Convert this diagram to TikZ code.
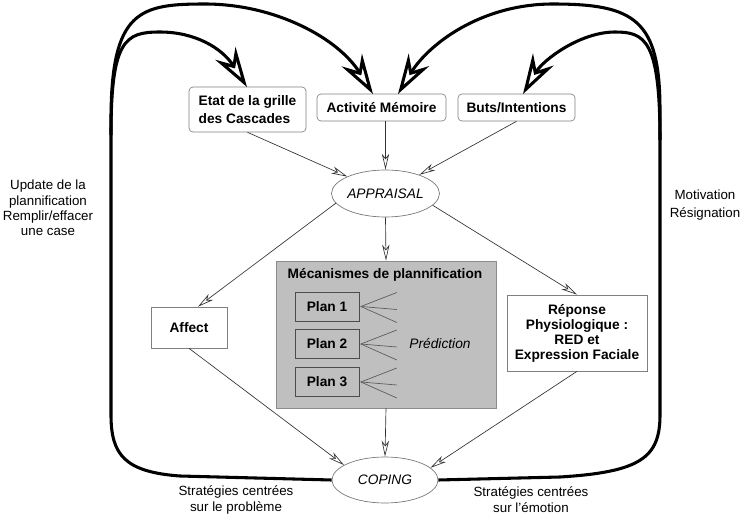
\documentclass[tikz,border=0pt]{standalone}
\usepackage{fontspec}
\setmainfont{Liberation Sans}
\usetikzlibrary{arrows.meta,shapes.geometric,calc}
\begin{document}
\begin{tikzpicture}[x=0.75pt,y=-0.75pt,
  box/.style={draw=black!50, line width=0.5pt, inner sep=0pt, align=center, font=\bfseries\fontsize{10.3}{12}\selectfont},
  rbox/.style={box, rounded corners=3pt},
  ell/.style={ellipse, draw=black!55, line width=0.5pt, inner sep=0pt, font=\itshape\fontsize{10.3}{12}\selectfont},
  plan/.style={box, draw=black!70, fill=black!25, minimum width=48pt, minimum height=21.75pt},
  flow/.style={draw=black!80, line width=0.5pt, -{Stealth[open, fill=white, length=12pt, width=5.5pt, inset=3.5pt]}},
  loop/.style={line width=2.3pt, -{Stealth[open, fill=white, length=30pt, width=18pt, inset=10pt]}},
  fan/.style={draw=black!65, line width=0.5pt},
  lbl/.style={align=center, font=\fontsize{10}{11.5}\selectfont}
]
\useasboundingbox (0,0) rectangle (744,518);

% nodes
\node[rbox, minimum width=87.75pt, minimum height=33.75pt, align=left, font=\bfseries\fontsize{10.3}{14}\selectfont] (etat) at (247.5,109.5) {Etat de la grille\\des Cascades};
\node[rbox, minimum width=96.75pt, minimum height=20.25pt] (act) at (381.5,107.5) {Activité Mémoire};
\node[rbox, minimum width=87.75pt, minimum height=20.25pt] (buts) at (516.5,107.5) {Buts/Intentions};
\node[ell, minimum width=75.75pt, minimum height=35.25pt] (app) at (385.5,193.5) {APPRAISAL};
\node[box, draw=black!45, fill=black!25, minimum width=165pt, minimum height=110.25pt] (mech) at (386,334.5) {};
\node[anchor=west, font=\bfseries\fontsize{10.3}{12}\selectfont] (mtitle) at (283,275) {Mécanismes de plannification};
\node[plan] (p1) at (327,306.5) {Plan 1};
\node[plan] (p2) at (327,344) {Plan 2};
\node[plan] (p3) at (327,382) {Plan 3};
\node[font=\itshape\fontsize{10.3}{12}\selectfont] (pred) at (440,344) {Prédiction};
\node[box, minimum width=57pt, minimum height=30.75pt] (affect) at (189,327.5) {Affect};
\node[box, minimum width=105pt, minimum height=57pt, font=\bfseries\fontsize{10.3}{11.25}\selectfont] (rep) at (577,333) {Réponse\\Physiologique :\\RED et\\Expression Faciale};
\node[ell, minimum width=79.5pt, minimum height=34.5pt] (cop) at (385,480) {COPING};

% labels
\node[lbl] (upd) at (48,208) {Update de la\\plannification\\Remplir/effacer\\une case};
\node[lbl, font=\fontsize{10}{13}\selectfont] (mot) at (705,205) {Motivation\\Résignation};
\node[lbl, font=\fontsize{10}{12}\selectfont] (sp) at (236,500) {Stratégies centrées\\sur le problème};
\node[lbl, font=\fontsize{10}{12}\selectfont] (se) at (531,500) {Stratégies centrées\\sur l'émotion};

% fan lines
\foreach \p in {p1,p2,p3}{
  \draw[fan] ($(\p.east)+(1.5,0)$) -- ++(36,-14);
  \draw[fan] ($(\p.east)+(1.5,0)$) -- ++(36,3);
  \draw[fan] ($(\p.east)+(1.5,0)$) -- ++(36,16);
}

% thin arrows
\draw[flow] (etat.south) -- (app);
\draw[flow] (app |- act.south) -- (app.north);
\draw[flow] (buts.south) -- (app);
\draw[flow] (app.191) -- ($(affect.north)+(9,0)$);
\draw[flow] (app.south) -- (mech.north);
\draw[flow] (app.-14) -- (rep.north);
\draw[flow] (affect.south) -- (cop.160);
\draw[flow] (mech.south) -- (cop.north);
\draw[flow] (rep.south) -- (cop.15);

% thick loops
\coordinate (tE) at (247,87);
\coordinate (tA1) at (373,94);
\coordinate (tA2) at (398,94);
\coordinate (tB) at (523,94);
\draw[loop] (cop.west) -- (180,476) .. controls (125,472) and (111,455) .. (111,415)
  -- (111,120) .. controls (111,10) and (140,4) .. (205,4)
  .. controls (275,4) and (338,38) .. (tA1);
\draw[loop] (111,135) .. controls (111,40) and (125,32) .. (160,32)
  .. controls (195,32) and (222,48) .. (tE);
\draw[loop] (cop.east) -- (560,477) .. controls (640,472) and (660,458) .. (660,415)
  -- (660,110) .. controls (660,20) and (635,4) .. (553,4)
  .. controls (480,4) and (428,45) .. (tA2);
\draw[loop] (660,140) .. controls (660,40) and (645,32) .. (615,32)
  .. controls (580,32) and (543,60) .. (tB);
\end{tikzpicture}
\end{document}
